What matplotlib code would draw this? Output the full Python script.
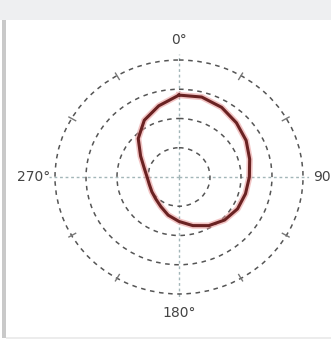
import numpy as np
import matplotlib
matplotlib.use("Agg")
import matplotlib.pyplot as plt
import matplotlib.patches

plt.rcParams["font.family"] = "DejaVu Sans"

# measured contour, radius per compass bearing (deg, clockwise from top)
bearing_deg = [0, 15, 30, 45, 60, 75, 90, 105, 120, 135, 150, 165,
               180, 195, 210, 225, 240, 255, 270, 285, 300, 315, 330, 345]
radius = [2.80, 2.83, 2.75, 2.62, 2.50, 2.36, 2.27, 2.22, 2.18, 2.08, 1.92, 1.72,
          1.52, 1.35, 1.17, 1.06, 1.01, 0.99, 1.03, 1.16, 1.43, 1.86, 2.24, 2.52]

ring_values = [1, 2, 3, 4]
axis_angles = [0, 90, 180, 270]
axis_labels = ["0°", "90", "180°", "270°"]
minor_angles = [30, 60, 120, 150, 210, 240, 300, 330]

fig = plt.figure(figsize=(3.31, 3.40), dpi=100)
fig.patch.set_facecolor("white")

# page chrome: grey header band, left rule, bottom rule
fig.patches.append(matplotlib.patches.Rectangle((0, 320 / 340), 1, 20 / 340,
                   transform=fig.transFigure, facecolor="#eeeff1", edgecolor="none"))
fig.patches.append(matplotlib.patches.Rectangle((2 / 331, 2 / 340), 4 / 331, 318 / 340,
                   transform=fig.transFigure, facecolor="#c9c9c9", edgecolor="none"))
fig.patches.append(matplotlib.patches.Rectangle((6 / 331, 1 / 340), 1, 2 / 340,
                   transform=fig.transFigure, facecolor="#ececec", edgecolor="none"))

rmax = 4.2
ax = fig.add_axes([48.8 / 331, 40.15 / 340, 260.4 / 331, 245.7 / 340], projection="polar")
ax.set_aspect("auto")
ax.set_theta_zero_location("N")
ax.set_theta_direction(-1)
ax.set_facecolor("none")
ax.spines["polar"].set_visible(False)

ax.set_rlim(0, rmax)
ax.set_rgrids(ring_values, labels=[""] * len(ring_values))
ax.set_thetagrids(axis_angles, labels=[""] * len(axis_angles))

ax.yaxis.grid(True, color="#555555", linestyle=(0, (3, 3)), linewidth=1.1)
ax.xaxis.grid(True, color="#a3b6b8", linestyle=(0, (2, 2)), linewidth=1.0)

# cardinal labels just outside the outer ring
label_pos = {0: (4.68, "center", "center"), 90: (4.32, "left", "center"),
             180: (4.65, "center", "center"), 270: (4.16, "right", "center")}
for a, lab in zip(axis_angles, axis_labels):
    rr, ha, va = label_pos[a]
    ax.text(np.deg2rad(a), rr, lab, ha=ha, va=va, fontsize=10,
            color="#444444", clip_on=False)

# short ticks across the outer ring
for a in minor_angles:
    ax.plot([np.deg2rad(a)] * 2, [ring_values[-1] - 0.15, ring_values[-1] + 0.1],
            color="#777777", linewidth=1.0, clip_on=False)

theta = np.deg2rad(bearing_deg + [bearing_deg[0]])
r = radius + [radius[0]]
ax.plot(theta, r, color="#e89494", linewidth=4.5, alpha=0.55, solid_joinstyle="round")
ax.plot(theta, r, color="#6a2222", linewidth=2.2, solid_joinstyle="round")

fig.savefig("out.png", dpi=100)
